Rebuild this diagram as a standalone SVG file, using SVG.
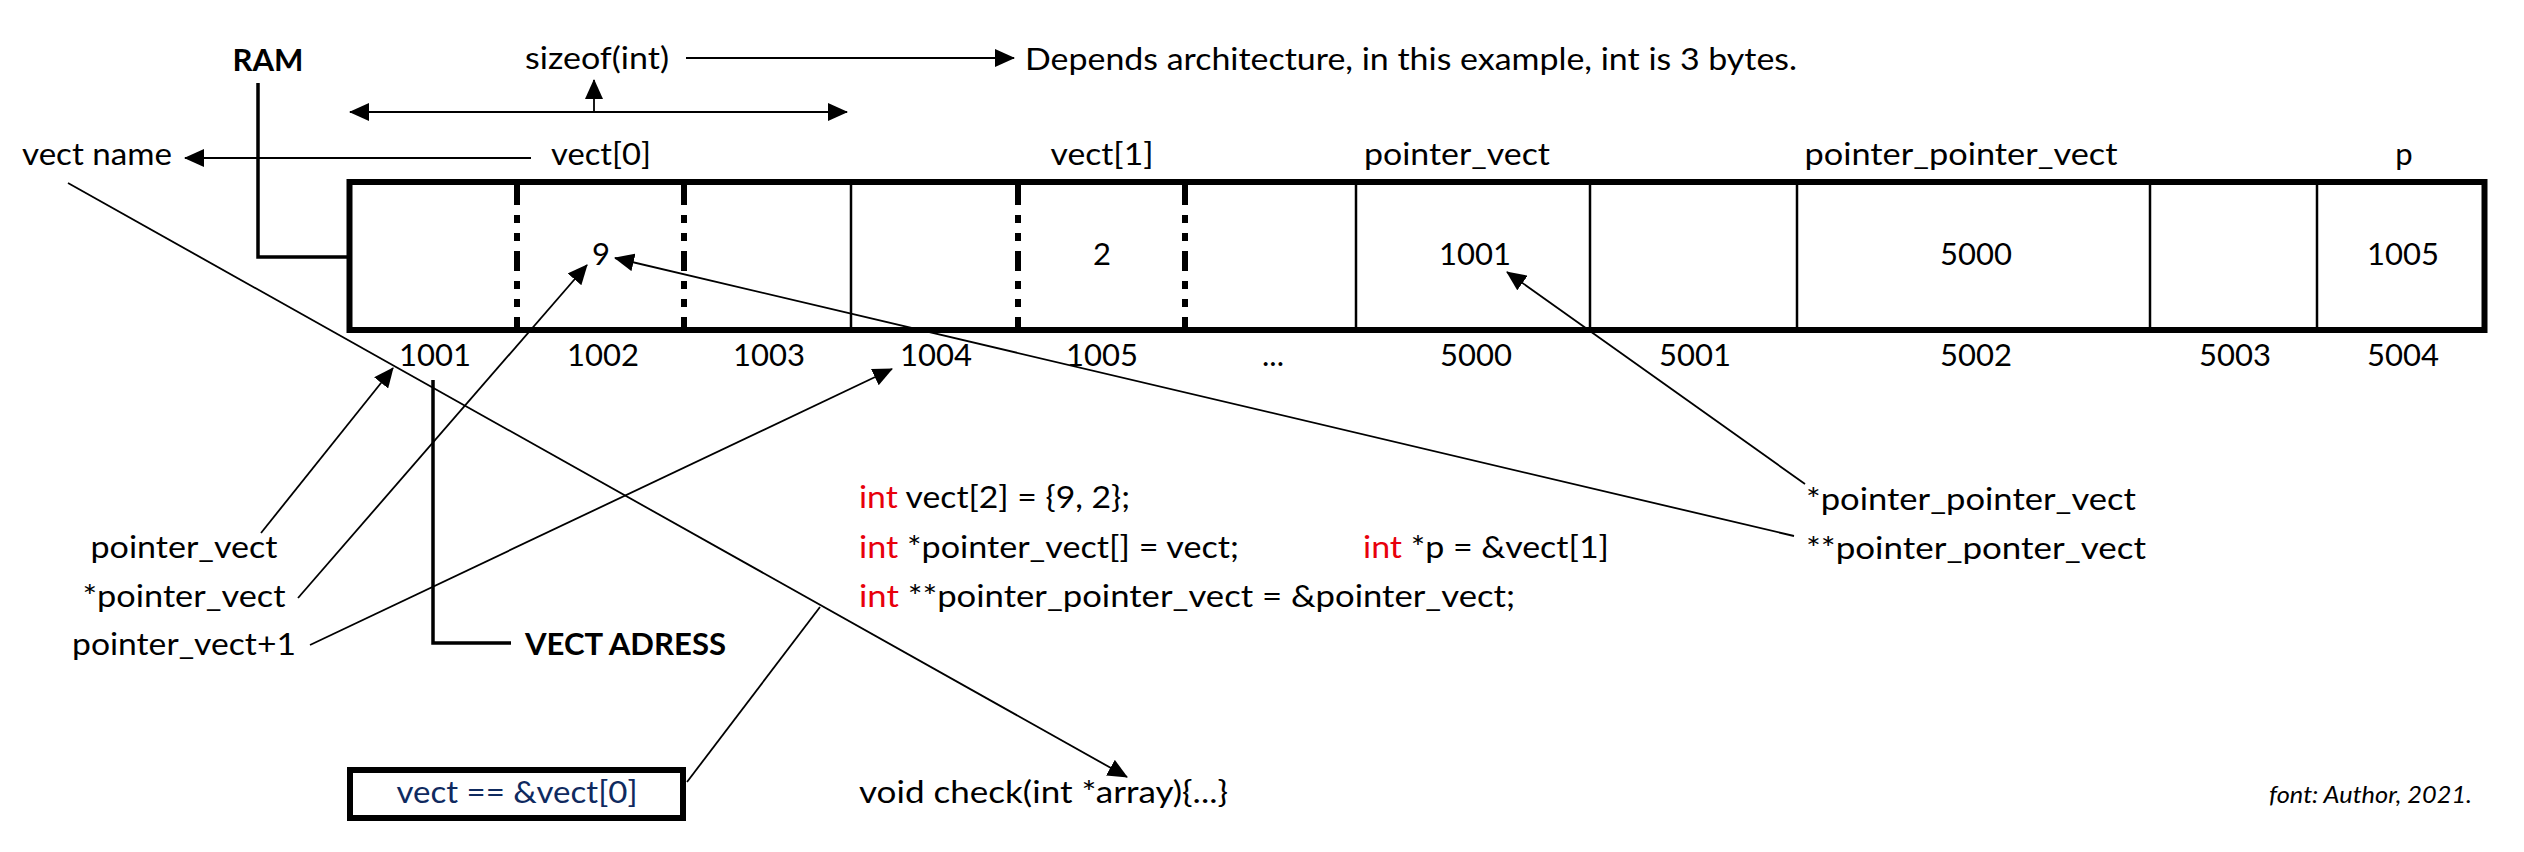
<svg xmlns="http://www.w3.org/2000/svg" width="2524" height="852" viewBox="0 0 2524 852">
<defs>
<style>
text{font-family:Lato,"Liberation Sans",sans-serif;font-size:31px;fill:#000}
.b{font-weight:bold}
.c{text-anchor:middle}
.kw{fill:#e8000b}
.navy{fill:#0f2a5f}
.it{font-style:italic;font-size:24px}
.ln{stroke:#000;stroke-width:1.8;fill:none}
.th{stroke:#000;stroke-width:3.5;fill:none}
.div{stroke:#000;stroke-width:2.5}
.dash{stroke:#000;stroke-width:6;stroke-dasharray:20 10 8 10 8 10}
</style>
<marker id="ah" markerUnits="userSpaceOnUse" markerWidth="20" markerHeight="18" refX="19" refY="9" orient="auto-start-reverse">
<path d="M0,0 L20,9 L0,18 z" fill="#000"/>
</marker>
</defs>
<rect width="2524" height="852" fill="#fff"/>

<g id="memory">
<rect x="349.5" y="182" width="2135" height="148" fill="#fff" stroke="#000" stroke-width="6"/>
<line class="dash" x1="517" y1="185" x2="517" y2="327"/>
<line class="dash" x1="684" y1="185" x2="684" y2="327"/>
<line class="div" x1="851" y1="185" x2="851" y2="327"/>
<line class="dash" x1="1018" y1="185" x2="1018" y2="327"/>
<line class="dash" x1="1185" y1="185" x2="1185" y2="327"/>
<line class="div" x1="1356" y1="185" x2="1356" y2="327"/>
<line class="div" x1="1590" y1="185" x2="1590" y2="327"/>
<line class="div" x1="1797" y1="185" x2="1797" y2="327"/>
<line class="div" x1="2150" y1="185" x2="2150" y2="327"/>
<line class="div" x1="2317" y1="185" x2="2317" y2="327"/>
<text class="c" x="601" y="265">9</text>
<text class="c" x="1102" y="265">2</text>
<text class="c" x="1475" y="265">1001</text>
<text class="c" x="1976" y="265">5000</text>
<text class="c" x="2403" y="265">1005</text>
</g>

<g id="addresses">
<text class="c" x="435" y="366">1001</text>
<text class="c" x="603" y="366">1002</text>
<text class="c" x="769" y="366">1003</text>
<text class="c" x="936" y="366">1004</text>
<text class="c" x="1102" y="366">1005</text>
<text class="c" x="1273" y="366">...</text>
<text class="c" x="1476" y="366">5000</text>
<text class="c" x="1695" y="366">5001</text>
<text class="c" x="1976" y="366">5002</text>
<text class="c" x="2235" y="366">5003</text>
<text class="c" x="2403" y="366">5004</text>
</g>

<g id="top-labels">
<text class="b c" x="268" y="71" textLength="71" lengthAdjust="spacingAndGlyphs">RAM</text>
<text class="c" x="597" y="69" textLength="144" lengthAdjust="spacingAndGlyphs">sizeof(int)</text>
<text x="1025" y="70" textLength="772" lengthAdjust="spacingAndGlyphs">Depends architecture, in this example, int is 3 bytes.</text>
<text x="22" y="165" textLength="150" lengthAdjust="spacingAndGlyphs">vect name</text>
<text class="c" x="601" y="165" textLength="100" lengthAdjust="spacingAndGlyphs">vect[0]</text>
<text class="c" x="1102" y="165" textLength="103" lengthAdjust="spacingAndGlyphs">vect[1]</text>
<text class="c" x="1457" y="165" textLength="186" lengthAdjust="spacingAndGlyphs">pointer_vect</text>
<text class="c" x="1961" y="165" textLength="313" lengthAdjust="spacingAndGlyphs">pointer_pointer_vect</text>
<text class="c" x="2404" y="165">p</text>
</g>

<g id="left-labels">
<text class="c" x="184" y="558" textLength="187" lengthAdjust="spacingAndGlyphs">pointer_vect</text>
<text class="c" x="184" y="607" textLength="203" lengthAdjust="spacingAndGlyphs">*pointer_vect</text>
<text class="c" x="184" y="655" textLength="224" lengthAdjust="spacingAndGlyphs">pointer_vect+1</text>
<text class="b" x="525" y="655" textLength="201" lengthAdjust="spacingAndGlyphs">VECT ADRESS</text>
</g>

<g id="equality-box">
<rect x="350" y="770" width="333" height="48" fill="#fff" stroke="#000" stroke-width="6"/>
<text class="c navy" x="517" y="803" textLength="241" lengthAdjust="spacingAndGlyphs">vect == &amp;vect[0]</text>
</g>

<g id="code">
<text x="859" y="508" textLength="271" lengthAdjust="spacingAndGlyphs"><tspan class="kw">int</tspan> vect[2] = {9, 2};</text>
<text x="859" y="558" textLength="380" lengthAdjust="spacingAndGlyphs"><tspan class="kw">int</tspan> *pointer_vect[] = vect;</text>
<text x="1363" y="558" textLength="246" lengthAdjust="spacingAndGlyphs"><tspan class="kw">int</tspan> *p = &amp;vect[1]</text>
<text x="859" y="607" textLength="656" lengthAdjust="spacingAndGlyphs"><tspan class="kw">int</tspan> **pointer_pointer_vect = &amp;pointer_vect;</text>
<text x="859" y="803" textLength="369" lengthAdjust="spacingAndGlyphs">void check(int *array){...}</text>
</g>

<g id="right-labels">
<text x="1806" y="510" textLength="330" lengthAdjust="spacingAndGlyphs">*pointer_pointer_vect</text>
<text x="1806" y="559" textLength="340" lengthAdjust="spacingAndGlyphs">**pointer_ponter_vect</text>
</g>

<g id="credit">
<text class="it" x="2269" y="803" textLength="203" lengthAdjust="spacingAndGlyphs">font: Author, 2021.</text>
</g>

<g id="connectors">
<polyline class="th" points="258,83 258,257 347,257"/>
<line class="ln" x1="594" y1="112" x2="594" y2="80" marker-end="url(#ah)"/>
<line class="ln" x1="686" y1="58" x2="1014" y2="58" marker-end="url(#ah)"/>
<line class="ln" x1="350" y1="112" x2="847" y2="112" marker-start="url(#ah)" marker-end="url(#ah)"/>
<line class="ln" x1="531" y1="158" x2="185" y2="158" marker-end="url(#ah)"/>
<line class="ln" x1="68" y1="183" x2="1127" y2="777" marker-end="url(#ah)"/>
<line class="ln" x1="261" y1="533" x2="393" y2="368" marker-end="url(#ah)"/>
<line class="ln" x1="298" y1="598" x2="587" y2="265" marker-end="url(#ah)"/>
<line class="ln" x1="310" y1="645" x2="892" y2="369" marker-end="url(#ah)"/>
<polyline class="th" points="433,380 433,643 511,643"/>
<line class="ln" x1="687" y1="782" x2="820" y2="607"/>
<line class="ln" x1="1794" y1="536" x2="615" y2="258" marker-end="url(#ah)"/>
<line class="ln" x1="1805" y1="484" x2="1507" y2="272" marker-end="url(#ah)"/>
</g>
</svg>
